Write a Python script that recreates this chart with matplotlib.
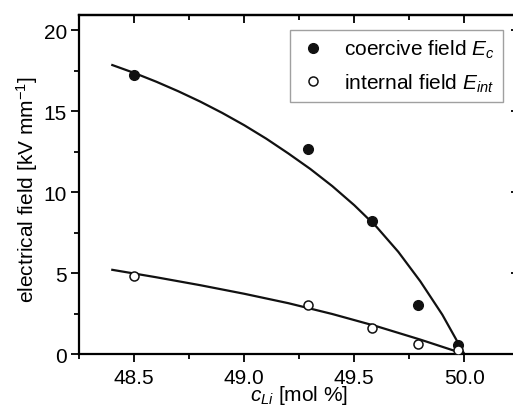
import matplotlib
matplotlib.use('Agg')
import matplotlib.pyplot as plt
from matplotlib.ticker import MultipleLocator

plt.rcParams['font.family'] = ['Liberation Sans', 'DejaVu Sans']
plt.rcParams['mathtext.fontset'] = 'custom'
plt.rcParams['mathtext.rm'] = 'Liberation Sans'
plt.rcParams['mathtext.it'] = 'Liberation Sans:italic'
plt.rcParams['mathtext.bf'] = 'Liberation Sans:bold'

# measured points
c_li = [48.5, 49.29, 49.58, 49.79, 49.97]
e_coercive = [17.23, 12.67, 8.24, 3.02, 0.55]
e_internal = [4.79, 3.02, 1.58, 0.62, 0.22]

# fit curves
fit_c_x = [48.4, 48.5, 48.6, 48.7, 48.8, 48.9, 49.0, 49.1, 49.2,
           49.3, 49.4, 49.5, 49.6, 49.7, 49.8, 49.9, 50.0]
fit_c_y = [17.85, 17.36, 16.82, 16.23, 15.59, 14.89, 14.13, 13.30, 12.39,
           11.43, 10.37, 9.19, 7.87, 6.31, 4.49, 2.43, 0.0]
fit_i_x = [48.4, 48.6, 48.8, 49.0, 49.2, 49.4, 49.6, 49.8, 50.0]
fit_i_y = [5.20, 4.74, 4.25, 3.72, 3.14, 2.47, 1.72, 0.89, 0.0]

fig = plt.figure(figsize=(5.13, 4.14), dpi=100)
ax = fig.add_axes([0.1546, 0.1425, 0.8577, 0.8188])

ax.plot(fit_c_x, fit_c_y, color='#111111', lw=1.6, zorder=2)
ax.plot(fit_i_x, fit_i_y, color='#111111', lw=1.6, zorder=2)
ax.plot(c_li, e_coercive, 'o', color='#111111', ms=7, zorder=3,
        label=r'coercive field $E_{c}$')
ax.plot(c_li, e_internal, 'o', mfc='white', mec='#111111', mew=1.1, ms=6.5, zorder=3,
        label=r'internal field $E_{int}$')

ax.set_xlim(48.25, 50.25)
ax.set_ylim(0, 20.94)
ax.xaxis.set_minor_locator(MultipleLocator(0.25))
ax.yaxis.set_major_locator(MultipleLocator(5))
ax.yaxis.set_minor_locator(MultipleLocator(2.5))
ax.set_xticks([48.5, 49.0, 49.5, 50.0])
ax.set_xticklabels(['48.5', '49.0', '49.5', '50.0'])

ax.tick_params(which='major', direction='out', length=6, width=1.3, labelsize=15)
ax.tick_params(which='minor', direction='out', length=3.5, width=1.3)
ax.tick_params(axis='x', pad=4)
ax.tick_params(axis='y', pad=3)
for s in ax.spines.values():
    s.set_linewidth(1.6)

top = ax.secondary_xaxis('top')
top.xaxis.set_major_locator(MultipleLocator(0.5))
top.xaxis.set_minor_locator(MultipleLocator(0.25))
top.tick_params(which='major', direction='in', length=6, width=1.3, labeltop=False)
top.tick_params(which='minor', direction='in', length=3.5, width=1.3)
top.spines['top'].set_linewidth(1.6)

right = ax.secondary_yaxis('right')
right.yaxis.set_major_locator(MultipleLocator(5))
right.yaxis.set_minor_locator(MultipleLocator(2.5))
right.tick_params(which='major', direction='in', length=6, width=1.3, labelright=False)
right.tick_params(which='minor', direction='in', length=3.5, width=1.3)

ax.set_ylabel(r'electrical field [kV mm$^{-1}$]', fontsize=15)
ax.yaxis.set_label_coords(-0.09, 0.487)
ax.set_xlabel(r'$c_{Li}$ [mol %]', fontsize=15)
ax.xaxis.set_label_coords(0.50, -0.085)

leg = ax.legend(loc='upper right', bbox_to_anchor=(0.981, 0.926), bbox_transform=fig.transFigure,
                borderaxespad=0, fontsize=15, frameon=True, fancybox=False,
                handlelength=1.4, handletextpad=0.8, labelspacing=0.55, borderpad=0.4)
leg.get_frame().set_edgecolor('#888888')
leg.get_frame().set_linewidth(1.0)

fig.savefig('out.png', dpi=100)
